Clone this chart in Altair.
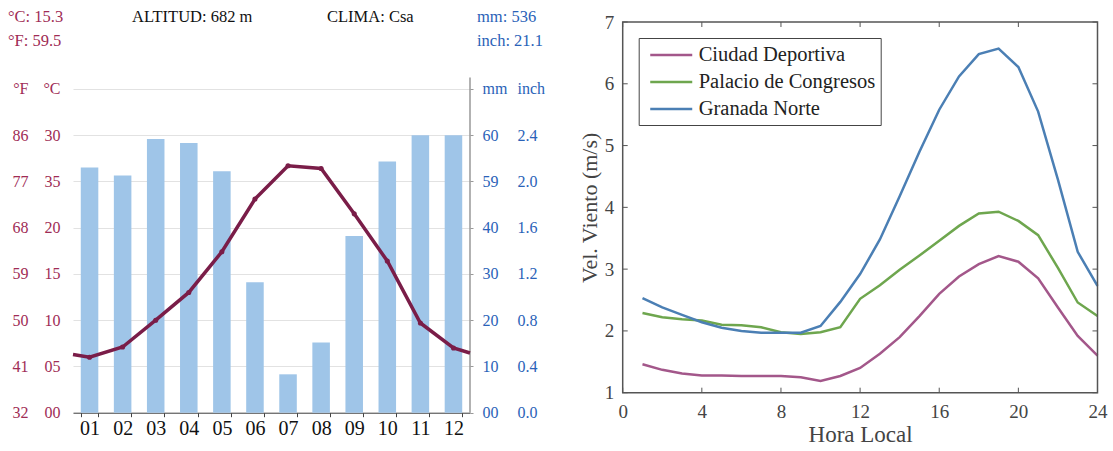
import altair as alt
import pandas as pd

# ---------------- Left panel: climate chart ----------------
months = ["01", "02", "03", "04", "05", "06", "07", "08", "09", "10", "11", "12"]
temp_c = [6.0, 7.1, 10.0, 13.0, 17.4, 23.1, 26.7, 26.4, 21.5, 16.4, 9.7, 7.0]
temp_left_edge = 6.3
temp_right_edge = 6.45
precip_mm = [53.0, 51.3, 59.2, 58.3, 52.2, 28.2, 8.3, 15.2, 38.2, 54.3, 60.0, 60.0]

c_ticks = [0, 5, 10, 15, 20, 25, 30, 35]
c_labels = ["00", "05", "10", "15", "20", "35", "30", "°C"]
f_labels = ["32", "41", "50", "59", "68", "77", "86", "°F"]
mm_ticks = [0, 10, 20, 30, 40, 50, 60, 70]
mm_labels = ["00", "10", "20", "30", "40", "59", "60", "mm"]
inch_labels = ["0.0", "0.4", "0.8", "1.2", "1.6", "2.0", "2.4", "inch"]

hdr_red = ["°C: 15.3", "°F: 59.5"]
hdr_black = ["ALTITUD: 682 m", "CLIMA: Csa"]
hdr_blue = ["mm: 536", "inch: 21.1"]

# ---------------- Right panel: wind speed ----------------
hours = list(range(1, 25))
ciudad = [1.46, 1.37, 1.31, 1.28, 1.28, 1.27, 1.27, 1.27, 1.25, 1.19, 1.27, 1.40,
          1.63, 1.90, 2.24, 2.60, 2.88, 3.08, 3.21, 3.12, 2.85, 2.38, 1.92, 1.60]
palacio = [2.29, 2.22, 2.19, 2.17, 2.10, 2.09, 2.06, 1.98, 1.95, 1.98, 2.06, 2.52,
           2.74, 2.99, 3.22, 3.46, 3.70, 3.90, 3.93, 3.78, 3.55, 3.02, 2.46, 2.24]
granada = [2.53, 2.38, 2.26, 2.14, 2.05, 2.00, 1.97, 1.97, 1.97, 2.08, 2.47, 2.92,
           3.48, 4.18, 4.90, 5.58, 6.12, 6.48, 6.57, 6.27, 5.55, 4.45, 3.28, 2.73]
series = ["Ciudad Deportiva", "Palacio de Congresos", "Granada Norte"]
series_colors = ["#a3578a", "#6ea64e", "#4b7fb4"]
x_ticks = [0, 4, 8, 12, 16, 20, 24]
y_ticks = [1, 2, 3, 4, 5, 6, 7]

SERIF = "Liberation Serif"
RED = "#a02c55"
BLUE = "#2a62b8"
LINE = "#7a1d48"


def arr_expr(labels, step):
    return "[" + ",".join("'" + s + "'" for s in labels) + "][round(datum.value/" + str(step) + ")]"


# geometry of left plot
W1, H1 = 397, 390.7
TMAX = 42.24
MMAX = 84.48

df_bar = pd.DataFrame({"month": months, "mm": precip_mm})
bars = alt.Chart(df_bar).mark_bar(color="#9fc5e8").encode(
    x=alt.X("month:N", sort=months,
            scale=alt.Scale(paddingInner=0.47, paddingOuter=0.235),
            axis=alt.Axis(title=None, labelAngle=0, labelFont=SERIF, labelFontSize=20,
                          labelColor="#111", tickBand="extent", tickSize=4, tickColor="#444",
                          domainColor="#444", labelPadding=2, grid=False)),
    y=alt.Y("mm:Q", scale=alt.Scale(domain=[0, MMAX], nice=False),
            axis=alt.Axis(orient="right", values=mm_ticks, labelExpr=arr_expr(mm_labels, 10),
                          title=None, grid=False, domain=False, tickSize=3, tickColor="#999",
                          labelPadding=9, labelFont=SERIF, labelFontSize=16, labelColor=BLUE)),
)

line_pos = [0.0] + [i + 0.5 for i in range(12)] + [12.0]
line_temp = [temp_left_edge] + temp_c + [temp_right_edge]
df_line = pd.DataFrame({"pos": line_pos, "t": line_temp})
temp_line = alt.Chart(df_line).mark_line(color=LINE, strokeWidth=3.5).encode(
    x=alt.X("pos:Q", scale=alt.Scale(domain=[0, 12], nice=False, zero=False), axis=None),
    y=alt.Y("t:Q", scale=alt.Scale(domain=[0, TMAX], nice=False),
            axis=alt.Axis(orient="left", values=c_ticks, labelExpr=arr_expr(c_labels, 5),
                          title=None, grid=True, gridColor="#e2e2e2", gridWidth=1.2,
                          domain=False, ticks=False, labelPadding=13,
                          labelFont=SERIF, labelFontSize=16, labelColor=RED)),
)

df_pts = pd.DataFrame({"pos": [i + 0.5 for i in range(12)], "t": temp_c})
temp_pts = alt.Chart(df_pts).mark_circle(color=LINE, size=26, opacity=1).encode(
    x=alt.X("pos:Q", scale=alt.Scale(domain=[0, 12], nice=False, zero=False), axis=None),
    y=alt.Y("t:Q", scale=alt.Scale(domain=[0, TMAX], nice=False),
            axis=alt.Axis(orient="left", values=c_ticks, labelExpr=arr_expr(f_labels, 5),
                          title=None, grid=False, domain=False, ticks=False, offset=32,
                          labelPadding=13, labelFont=SERIF, labelFontSize=16, labelColor=RED)),
)

axis_line = alt.Chart(pd.DataFrame({"k": [0]})).mark_rule(color="#999", strokeWidth=1.5).encode(
    x=alt.value(W1),
    y=alt.YDatum(0, scale=alt.Scale(domain=[0, MMAX], nice=False),
                 axis=alt.Axis(orient="right", values=mm_ticks,
                               labelExpr=arr_expr(inch_labels, 10), title=None, grid=False,
                               domain=False, ticks=False, offset=35, labelPadding=12,
                               labelFont=SERIF, labelFontSize=16, labelColor=BLUE)),
    y2=alt.Y2Datum(72.5),
)


def header(texts, xs, ys, color):
    df = pd.DataFrame({"t": texts, "i": list(range(len(texts)))})
    layers = []
    for k in range(len(texts)):
        layers.append(
            alt.Chart(df).transform_filter(alt.datum.i == k).mark_text(
                align="left", baseline="middle", font=SERIF, fontSize=16.5, color=color
            ).encode(x=alt.value(xs[k]), y=alt.value(ys[k]), text="t:N")
        )
    return layers


hdr_layers = (header(hdr_red, [-65, -65], [-5, 19], RED)
              + header(hdr_black, [59, 254], [-5, -5], "#111")
              + header(hdr_blue, [404, 404], [-5, 19], BLUE))

left = alt.layer(bars, axis_line, temp_line, temp_pts, *hdr_layers).resolve_scale(
    x="independent", y="independent"
).properties(width=W1, height=H1)

# geometry of right plot
W2, H2 = 474.8, 370.7

rows = []
for name, vals in zip(series, [ciudad, palacio, granada]):
    for h, v in zip(hours, vals):
        rows.append({"hour": h, "value": v, "series": name})
df_wind = pd.DataFrame(rows)

xscale = alt.Scale(domain=[0, 24], nice=False, zero=False)
yscale = alt.Scale(domain=[1, 7], nice=False, zero=False)

wind = alt.Chart(df_wind).mark_line(strokeWidth=2.5).encode(
    x=alt.X("hour:Q", scale=xscale,
            axis=alt.Axis(values=x_ticks, format="d", title="Hora Local", grid=False,
                          ticks=False, domain=False, labelFlush=False, labelFont=SERIF,
                          labelFontSize=19, labelColor="#444", labelPadding=10,
                          titleFont=SERIF, titleFontSize=23, titleFontWeight="normal",
                          titleColor="#444", titlePadding=2)),
    y=alt.Y("value:Q", scale=yscale,
            axis=alt.Axis(values=y_ticks, format="d", title="Vel. Viento (m/s)", grid=False,
                          ticks=False, domain=False, labelFlush=False, labelFont=SERIF,
                          labelFontSize=19, labelColor="#444", labelPadding=9,
                          titleFont=SERIF, titleFontSize=22, titleFontWeight="normal",
                          titleColor="#444", titlePadding=3)),
    color=alt.Color("series:N", scale=alt.Scale(domain=series, range=series_colors),
                    legend=alt.Legend(title=None, orient="top-left", offset=16, padding=5,
                                      strokeColor="#444", fillColor="white",
                                      labelFont=SERIF, labelFontSize=20.5, labelColor="#222",
                                      symbolType="M-0.52,0L3.48,0", symbolStrokeWidth=2.5,
                                      symbolSize=441, labelLimit=400, labelOffset=31,
                                      rowPadding=4)),
    detail="series:N",
)

df_xt = pd.DataFrame({"hour": x_ticks})
df_yt = pd.DataFrame({"value": y_ticks})
tick_color = "#555"
xt_bottom = alt.Chart(df_xt).mark_rule(color=tick_color).encode(
    x=alt.X("hour:Q", scale=xscale), y=alt.value(H2), y2=alt.value(H2 - 5))
xt_top = alt.Chart(df_xt).mark_rule(color=tick_color).encode(
    x=alt.X("hour:Q", scale=xscale), y=alt.value(0), y2=alt.value(5))
yt_left = alt.Chart(df_yt).mark_rule(color=tick_color).encode(
    y=alt.Y("value:Q", scale=yscale), x=alt.value(0), x2=alt.value(5))
yt_right = alt.Chart(df_yt).mark_rule(color=tick_color).encode(
    y=alt.Y("value:Q", scale=yscale), x=alt.value(W2), x2=alt.value(W2 - 5))

frame = alt.Chart(pd.DataFrame({"k": [0]})).mark_rect(
    fillOpacity=0, stroke="#555", strokeWidth=1.5
).encode(x=alt.value(0), x2=alt.value(W2), y=alt.value(0), y2=alt.value(H2))

right = alt.layer(wind, xt_bottom, xt_top, yt_left, yt_right, frame).properties(
    width=W2, height=H2,
)

chart = alt.hconcat(left, right, spacing=152.7, bounds="flush").resolve_scale(
    color="independent"
).resolve_legend(color="independent").properties(
    padding={"left": 8, "top": 9, "right": 4, "bottom": 0}
).configure_view(strokeWidth=0)

chart.save("out.html", embed_options={"renderer": "svg", "actions": False})
